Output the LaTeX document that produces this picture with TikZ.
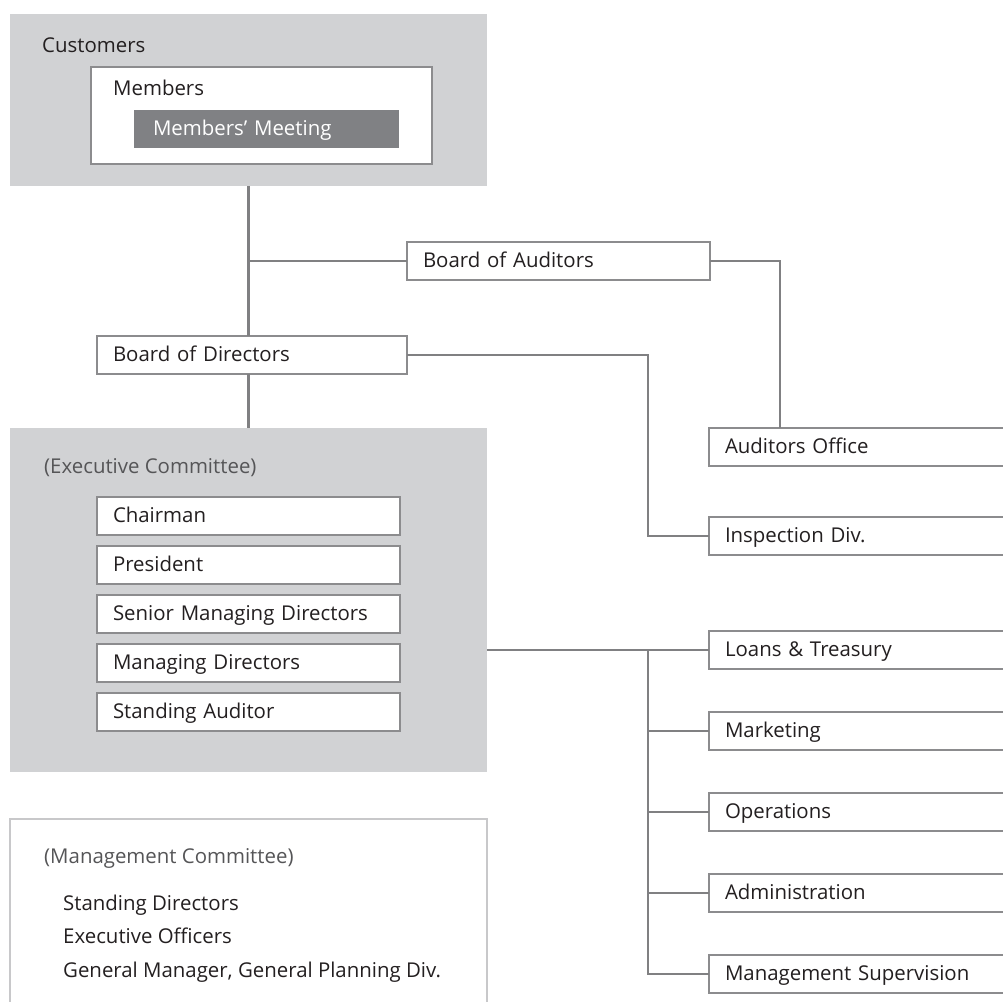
\documentclass[tikz,border=0pt]{standalone}
\usepackage{fontspec}
\setmainfont{Open Sans}
\usetikzlibrary{positioning}
\definecolor{panelgray}{RGB}{209,210,212}
\definecolor{boxgray}{RGB}{140,140,142}
\definecolor{linegray}{RGB}{128,128,130}
\definecolor{meetgray}{RGB}{128,129,132}
\definecolor{mgmtgray}{RGB}{200,200,202}
\definecolor{ink}{RGB}{35,31,32}
\definecolor{softink}{RGB}{85,85,87}
\tikzset{>=stealth,
  panel/.style={fill=panelgray, anchor=north west, inner sep=0pt, outer sep=0pt},
  unit/.style={draw=boxgray, line width=1.3pt, fill=white, anchor=north west, outer sep=0pt,
    minimum height=38pt, inner xsep=16pt, text width=#1, text height=16pt, text depth=3pt,
    align=left, text=ink},
  conn/.style={draw=linegray, line width=2.2pt},
  lbl/.style={anchor=base west, inner sep=0pt, text=ink}
}

\begin{document}
\fontsize{20.4pt}{24pt}\selectfont
\begin{tikzpicture}[x=1pt,y=-1pt]
    \useasboundingbox (0,0) rectangle (1003,1001);
    \clip (0,0) rectangle (1003,1001);
    % customers and members
    \node[panel, minimum width=477pt, minimum height=172pt] (cust) at (10,14) {};
    \node[lbl] (custlbl) at (42,52) {Customers};
    \node[draw=boxgray, line width=1.3pt, fill=white, anchor=north west, outer sep=0pt,
      minimum width=341pt, minimum height=97pt, inner sep=0pt] (mem) at (91,67) {};
    \node[lbl] (memlbl) at (113,95) {Members};
    \node[fill=meetgray, text=white, anchor=north west, outer sep=0pt, minimum height=38pt,
      inner xsep=19pt, text width=227pt, text height=16pt, text depth=3pt] (meet) at (134,110) {Members’ Meeting};
    % boards
    \node[unit=271pt] (boa) at (407,242) {Board of Auditors};
    \node[unit=278pt] (bod) at (97,336) {Board of Directors};
    % executive committee
    \node[panel, minimum width=477pt, minimum height=344pt] (exec) at (10,428) {};
    \node[lbl, text=softink] (execlbl) at (44,473) {(Executive Committee)};
    \foreach \t [count=\i] in {Chairman, President, Senior Managing Directors, Managing Directors, Standing Auditor}
      \node[unit=271pt] (ex\i) at (97,{497+49*(\i-1)}) {\t};
    % audit side
    \node[unit=269pt] (ao) at (709,428) {Auditors Office};
    \node[unit=269pt] (insp) at (709,517) {Inspection Div.};
    % divisions
    \foreach \t [count=\i] in {Loans \& Treasury, Marketing, Operations, Administration, Management Supervision}
      \node[unit=269pt] (d\i) at (709,{631+81*(\i-1)}) {\t};
    % management committee
    \node[draw=mgmtgray, line width=2pt, anchor=north west, outer sep=0pt, inner sep=0pt,
      minimum width=477pt, minimum height=200pt] (mgmt) at (10,819) {};
    \node[lbl, text=softink] (mgmtlbl) at (44,863) {(Management Committee)};
    \node[lbl] (sd) at (63,910) {Standing Directors};
    \node[lbl] (eo) at (63,943) {Executive Officers};
    \node[lbl] (gm) at (63,977) {General Manager, General Planning Div.};
    % connectors
    \coordinate (tr) at (648,650);
    \draw[conn] (cust.south) -- (cust.south |- bod.north);
    \draw[conn] (cust.south |- bod.south) -- (cust.south |- exec.north);
    \draw[conn] (cust.south |- boa.west) -- (boa.west);
    \draw[conn] (boa.east) -| ([xshift=71pt]ao.north west);
    \draw[conn] (bod.east) -| (tr |- insp.west) -- (insp.west);
    \draw[conn] (exec.east |- d1.west) -- (d1.west);
    \draw[conn] (tr |- d1.west) -- (tr |- d5.west) -- (d5.west);
    \foreach \i in {2,3,4}
      \draw[conn] (tr |- d\i.west) -- (d\i.west);
\end{tikzpicture}
\end{document}
